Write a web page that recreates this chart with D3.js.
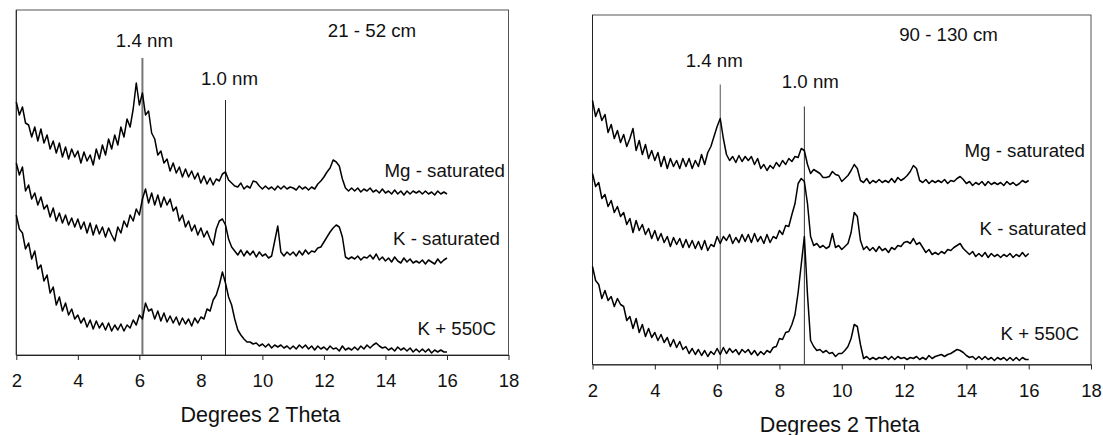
<!DOCTYPE html>
<html>
<head>
<meta charset="utf-8">
<script src="https://cdn.jsdelivr.net/npm/d3@7"></script>
<style>
  body { margin: 0; background: #fff; }
  svg { display: block; font-family: "Liberation Sans", Arial, sans-serif; }
</style>
</head>
<body>
<svg id="chart" width="1103" height="435"></svg>
<script>

// 2-theta grid, 2.0 .. 16.0 in 0.1 steps
const theta = d3.range(141).map(i => +(2 + i * 0.1).toFixed(1));
const xTicks = [2, 4, 6, 8, 10, 12, 14, 16, 18];

const seriesNames = ["Mg - saturated", "K - saturated", "K + 550C"];
const depthLabels = ["21 - 52 cm", "90 - 130 cm"];
const refLabels = ["1.4 nm", "1.0 nm"];
const refTheta = [6.1, 8.8];
// height reached by the reference lines (intensity units)
const refTopLeft = [297, 255];
const refTopRight = [280, 258];

// intensity, arbitrary units (offset traces as plotted)
const leftMg = [
  253, 240, 248, 232, 230, 218, 228, 214, 226, 212,
  220, 206, 214, 202, 212, 198, 208, 196, 206, 198,
  204, 192, 203, 194, 200, 190, 206, 196, 210, 200,
  216, 206, 220, 210, 228, 218, 236, 228, 246, 272,
  250, 262, 240, 244, 222, 216, 200, 204, 192, 196,
  184, 192, 182, 188, 178, 186, 178, 184, 176, 182,
  172, 179, 171, 177, 170, 176, 174, 181, 183, 175,
  172, 169, 168, 172, 166, 169, 167, 174, 173, 169,
  166, 169, 166, 168, 165, 169, 166, 169, 166, 168,
  167, 165, 169, 166, 168, 165, 168, 166, 171, 174,
  178, 183, 187, 195, 193, 189, 176, 167, 164, 167,
  164, 167, 163, 166, 164, 167, 163, 165, 162, 166,
  162, 164, 161, 165, 161, 164, 160, 164, 161, 164,
  162, 164, 161, 164, 161, 163, 160, 164, 161, 163,
  161
];
const leftK = [
  192, 180, 188, 164, 170, 156, 162, 150, 158, 146,
  150, 138, 147, 134, 142, 132, 140, 130, 137, 128,
  136, 126, 133, 122, 132, 120, 130, 121, 128, 118,
  127, 120, 114, 128, 122, 134, 128, 140, 134, 146,
  140, 156, 166, 152, 162, 150, 160, 148, 158, 150,
  156, 144, 148, 134, 140, 128, 134, 124, 130, 120,
  127, 118, 124, 116, 110, 126, 134, 136, 130, 116,
  108, 104, 100, 105, 99, 104, 100, 104, 98, 103,
  99, 101, 97, 99, 114, 129, 103, 99, 103, 100,
  103, 99, 104, 100, 105, 101, 104, 103, 107, 108,
  113, 118, 123, 127, 130, 128, 118, 98, 96, 98,
  96, 99, 95, 98, 97, 100, 96, 101, 95, 98,
  94, 97, 93, 98, 94, 92, 97, 93, 96, 92,
  94, 92, 95, 91, 95, 93, 91, 96, 92, 95,
  97
];
const leftK550 = [
  140, 126, 122, 106, 112, 96, 104, 86, 90, 74,
  80, 62, 68, 50, 58, 44, 52, 40, 46, 36,
  40, 32, 37, 28, 35, 26, 34, 27, 32, 25,
  32, 24, 30, 25, 31, 24, 30, 27, 35, 30,
  40, 36, 52, 44, 46, 36, 44, 34, 42, 33,
  39, 32, 38, 30, 37, 31, 36, 29, 37, 32,
  38, 36, 46, 44, 55, 60, 70, 83, 72, 58,
  50, 36, 25, 20, 16, 13, 13, 11, 12, 9,
  11, 8, 11, 7, 10, 8, 10, 7, 9, 6,
  9, 6, 10, 7, 10, 6, 9, 5, 9, 6,
  8, 5, 9, 6, 7, 4, 9, 5, 7, 5,
  8, 5, 9, 6, 10, 7, 10, 12, 9, 7,
  8, 5, 7, 4, 8, 5, 7, 4, 7, 3,
  6, 3, 6, 3, 6, 2, 5, 3, 5, 3,
  3
];
const rightMg = [
  264, 248, 256, 244, 250, 232, 240, 226, 234, 222,
  230, 218, 226, 236, 214, 224, 210, 220, 206, 214,
  204, 212, 198, 208, 196, 206, 198, 204, 196, 206,
  198, 206, 196, 204, 198, 210, 200, 212, 218, 228,
  238, 246, 226, 210, 204, 208, 202, 209, 203, 208,
  204, 208, 200, 206, 196, 200, 194, 199, 196, 202,
  198, 204, 200, 206, 203, 208, 207, 216, 214, 200,
  191, 195, 193, 191, 187, 187, 188, 193, 190, 189,
  183, 186, 189, 194, 200, 196, 184, 182, 186, 181,
  184, 182, 185, 182, 184, 182, 186, 182, 187, 184,
  186, 189, 193, 199, 196, 184, 182, 185, 181, 184,
  182, 184, 182, 185, 181, 184, 183, 186, 188, 185,
  181, 183, 179, 182, 180, 183, 179, 183, 180, 182,
  180, 182, 179, 183, 180, 182, 179, 181, 184, 182,
  184
];
const rightK = [
  191, 178, 182, 166, 170, 158, 164, 152, 158, 148,
  152, 140, 146, 132, 144, 134, 140, 130, 136, 126,
  134, 124, 131, 122, 128, 118, 127, 120, 126, 117,
  125, 117, 124, 116, 123, 115, 124, 114, 120, 118,
  128, 121, 128, 124, 130, 121, 127, 122, 130, 123,
  130, 122, 131, 123, 128, 121, 130, 122, 128, 126,
  134, 130, 139, 138, 150, 161, 181, 186, 183, 161,
  128, 119, 121, 117, 119, 116, 118, 131, 117, 119,
  115, 118, 121, 132, 152, 148, 124, 115, 118, 114,
  117, 113, 118, 114, 116, 112, 117, 115, 119, 118,
  122, 123, 121, 126, 120, 122, 117, 112, 115, 110,
  112, 110, 113, 111, 115, 114, 117, 119, 121, 116,
  113, 110, 113, 108, 111, 108, 112, 107, 111, 108,
  110, 107, 110, 108, 111, 107, 110, 108, 112, 108,
  111
];
const rightK550 = [
  98, 84, 80, 66, 74, 64, 68, 58, 66, 60,
  58, 44, 48, 36, 46, 32, 40, 28, 36, 27,
  32, 24, 30, 22, 27, 18, 25, 17, 23, 15,
  18, 11, 16, 10, 15, 9, 14, 8, 13, 10,
  16, 10, 17, 11, 16, 12, 15, 10, 15, 12,
  15, 10, 14, 9, 13, 10, 14, 12, 17, 18,
  26, 25, 32, 33, 40, 50, 72, 100, 128, 70,
  24, 18, 14, 15, 12, 14, 11, 12, 8, 11,
  11, 14, 18, 26, 40, 38, 20, 6, 8, 5,
  7, 5, 7, 6, 8, 5, 8, 5, 8, 6,
  7, 5, 7, 6, 8, 5, 7, 5, 9, 6,
  8, 9, 10, 8, 10, 11, 13, 15, 14, 12,
  9, 7, 8, 5, 8, 5, 8, 5, 7, 4,
  7, 5, 7, 4, 7, 4, 7, 4, 7, 5,
  5
];

const panels = [
  {
    x0: 16.3, x1: 508.5, top: 10, bottom: 355, yMax: 345,
    depth: depthLabels[0], depthX: 372, depthY: 36.7,
    series: [leftMg, leftK, leftK550],
    labelEnd: [505, 500, 496], labelY: [176.7, 245, 335],
    refTop: refTopLeft,
    refLabelDx: [2, 4], refLabelY: [46.7, 85],
    refStyle: [{ c: "#777", w: 2 }, { c: "#222", w: 1 }]
  },
  {
    x0: 592.5, x1: 1091, top: 15, bottom: 364.5, yMax: 349.5,
    depth: depthLabels[1], depthX: 948.5, depthY: 40.7,
    series: [rightMg, rightK, rightK550],
    labelEnd: [1085, 1086.5, 1079], labelY: [156.7, 235, 340],
    refTop: refTopRight,
    refLabelDx: [-6, 6], refLabelY: [66.7, 88.3],
    refStyle: [{ c: "#555", w: 1 }, { c: "#333", w: 1 }]
  }
];

const svg = d3.select("#chart");
const fontSize = 18.7;

panels.forEach(p => {
  const x = d3.scaleLinear().domain([2, 18]).range([p.x0, p.x1]);
  const y = d3.scaleLinear().domain([0, p.yMax]).range([p.bottom, p.top]);
  const g = svg.append("g");

  // plot area frame
  g.append("rect")
    .attr("x", p.x0).attr("y", p.top)
    .attr("width", p.x1 - p.x0).attr("height", p.bottom - p.top)
    .attr("fill", "none").attr("stroke", "#555").attr("stroke-width", 1);

  // y axis line (no ticks)
  g.append("line")
    .attr("x1", p.x0).attr("x2", p.x0)
    .attr("y1", p.top).attr("y2", p.bottom)
    .attr("stroke", "#222");

  // x axis
  const xAxis = g.append("g")
    .attr("transform", `translate(0,${p.bottom})`)
    .call(d3.axisBottom(x).tickValues(xTicks).tickSize(5).tickPadding(14).tickSizeOuter(0));
  xAxis.select(".domain").attr("stroke", "#222");
  xAxis.selectAll(".tick line").attr("stroke", "#222");
  xAxis.selectAll("text")
    .attr("font-family", "Liberation Sans, Arial, sans-serif")
    .attr("font-size", 18.5).attr("fill", "#111");

  g.append("text")
    .attr("x", (p.x0 + p.x1) / 2 - 2).attr("y", p.bottom + 67)
    .attr("text-anchor", "middle").attr("font-size", 21.5).attr("fill", "#111")
    .text("Degrees 2 Theta");

  // reference lines
  refTheta.forEach((t, i) => {
    g.append("line")
      .attr("x1", x(t)).attr("x2", x(t))
      .attr("y1", y(p.refTop[i])).attr("y2", p.bottom)
      .attr("stroke", p.refStyle[i].c).attr("stroke-width", p.refStyle[i].w);
    g.append("text")
      .attr("x", x(t) + p.refLabelDx[i]).attr("y", p.refLabelY[i])
      .attr("text-anchor", "middle").attr("font-size", fontSize).attr("fill", "#111")
      .text(refLabels[i]);
  });

  // traces
  const line = d3.line().x((d, i) => x(theta[i])).y(d => y(d));
  p.series.forEach((s, i) => {
    g.append("path")
      .datum(s)
      .attr("d", line)
      .attr("fill", "none").attr("stroke", "#000")
      .attr("stroke-width", 1.5).attr("stroke-linejoin", "round");
    g.append("text")
      .attr("x", p.labelEnd[i]).attr("y", p.labelY[i])
      .attr("text-anchor", "end").attr("font-size", fontSize).attr("fill", "#111")
      .text(seriesNames[i]);
  });

  g.append("text")
    .attr("x", p.depthX).attr("y", p.depthY)
    .attr("text-anchor", "middle").attr("font-size", fontSize).attr("fill", "#111")
    .text(p.depth);
});
</script>
</body>
</html>
